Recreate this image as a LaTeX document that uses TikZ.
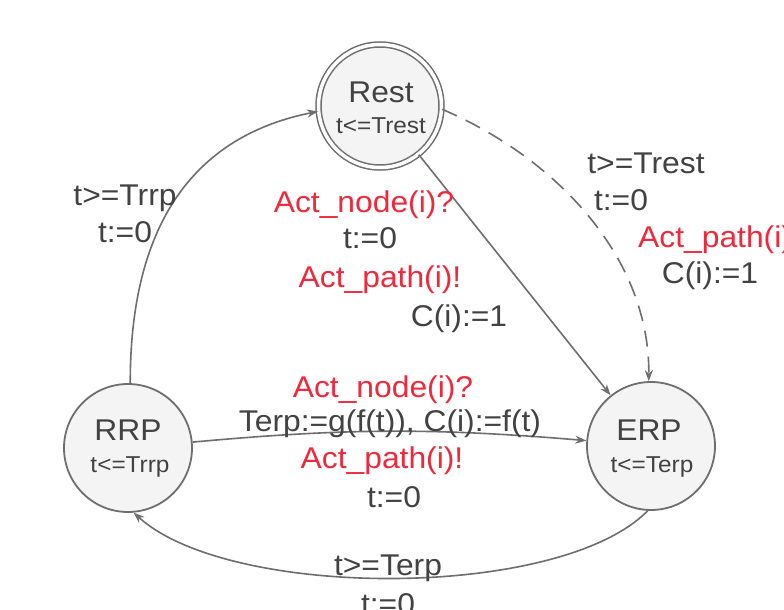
\documentclass[tikz,border=0pt]{standalone}
\usepackage{fontspec}
\setmainfont[FakeStretch=1.06]{Liberation Sans}
\usetikzlibrary{arrows.meta}
\definecolor{linegray}{HTML}{6E6E6E}
\definecolor{txtgray}{HTML}{424242}
\definecolor{lblred}{HTML}{F0283C}
\definecolor{statefill}{HTML}{F4F4F4}
\begin{document}
\begin{tikzpicture}[x=1pt,y=-1pt,
  statenode/.style={circle, draw=linegray, fill=statefill, line width=1.8pt, minimum size=128pt, inner sep=0pt},
  reststate/.style={statenode, double=white, double distance=3.5pt, line width=1.5pt, minimum size=123pt},
  edgeline/.style={draw=linegray, line width=1.6pt, -{Stealth[length=11pt,width=8pt]}},
  bigtxt/.style={font=\fontsize{30}{34}\selectfont, text=txtgray, inner sep=0pt, anchor=base},
  smalltxt/.style={font=\fontsize{23}{26}\selectfont, text=txtgray, inner sep=0pt, anchor=base},
  lblg/.style={bigtxt},
  lblr/.style={bigtxt, text=lblred}]
\clip (0,0) rectangle (784,610);
\fill[white] (0,0) rectangle (784,610);

% states
\node[reststate] (rest) at (380,106) {};
\node[statenode] (rrp) at (128,448) {};
\node[statenode] (erp) at (651,446) {};

% state texts
\node[bigtxt] (restname) at (381,102) {Rest};
\node[smalltxt] (restinv) at (381,133) {t<=Trest};
\node[bigtxt] (rrpname) at (128,440) {RRP};
\node[smalltxt] (rrpinv) at (130,472) {t<=Trrp};
\node[bigtxt] (erpname) at (649,440) {ERP};
\node[smalltxt] (erpinv) at (652,472) {t<=Terp};

% edges
\draw[edgeline] (rrp.88) .. controls (130,250) and (175,140) .. (rest.185);
\draw[edgeline] (rest) -- (erp);
\draw[edgeline, dash pattern=on 16pt off 10pt] (rest.-3) .. controls (560,160) and (650,260) .. (erp.92);
\draw[edgeline] (rrp) to[bend left=5] (erp);
\draw[edgeline] (erp.-93) .. controls (560,600) and (230,600) .. (rrp.-85);

% labels RRP -> Rest
\node[lblg] (l1) at (125,205) {t>=Trrp};
\node[lblg] (l2) at (125,242) {t:=0};

% labels Rest -> ERP (solid)
\node[lblr] (m1) at (364,212) {Act\_node(i)?};
\node[lblg] (m2) at (370,248) {t:=0};
\node[lblr] (m3) at (380,287) {Act\_path(i)!};
\node[lblg] (m4) at (459,326) {C(i):=1};

% labels RRP -> ERP
\node[lblr] (h1) at (383,397) {Act\_node(i)?};
\node[lblg] (h2) at (390,431) {Terp:=g(f(t)), C(i):=f(t)};
\node[lblr] (h3) at (382,468) {Act\_path(i)!};
\node[lblg] (h4) at (394,507) {t:=0};

% labels Rest -> ERP (dashed)
\node[lblg] (d1) at (646,173) {t>=Trest};
\node[lblg] (d2) at (621,210) {t:=0};
\node[lblr, anchor=base west] (d3) at (638,247) {Act\_path(i)!};
\node[lblg] (d4) at (710,283) {C(i):=1};

% labels ERP -> RRP
\node[lblg] (b1) at (388,575) {t>=Terp};
\node[lblg] (b2) at (388,614) {t:=0};
\end{tikzpicture}
\end{document}
